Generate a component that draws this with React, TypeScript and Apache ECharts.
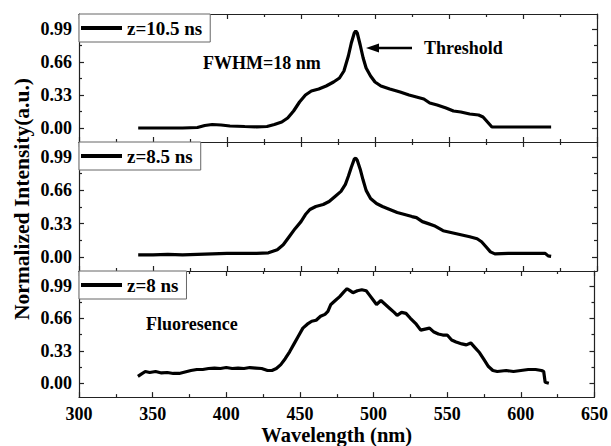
import React, { useEffect, useRef } from "react";
import * as echarts from "echarts";

// ---- data ----
const xTicks = [300, 350, 400, 450, 500, 550, 600, 650];
const yTicks = [0, 0.33, 0.66, 0.99];
const yMinorTicks = [0.165, 0.495, 0.825];

const names = ["z=10.5 ns", "z=8.5 ns", "z=8 ns"];

const wlA = [340, 355, 370, 380, 385, 390, 396, 402, 412, 420, 427, 432, 437, 441, 445, 449, 453, 457, 462, 467, 472, 476, 479, 482, 484, 486, 487, 488, 490, 492, 494, 497, 500, 504, 510, 517, 523, 528, 533, 537, 542, 548, 553, 558, 564, 570, 573, 576, 579, 590, 600, 610, 619];
const valA = [0.0, 0.0, 0.0, 0.005, 0.025, 0.035, 0.03, 0.02, 0.015, 0.012, 0.015, 0.035, 0.06, 0.1, 0.17, 0.26, 0.33, 0.37, 0.39, 0.42, 0.46, 0.5, 0.57, 0.72, 0.85, 0.95, 0.97, 0.95, 0.83, 0.7, 0.6, 0.52, 0.46, 0.42, 0.39, 0.36, 0.33, 0.31, 0.29, 0.25, 0.23, 0.2, 0.17, 0.16, 0.14, 0.13, 0.11, 0.06, 0.01, 0.01, 0.01, 0.01, 0.01];

const wlB = [340, 350, 360, 370, 380, 390, 400, 410, 420, 428, 434, 438, 442, 446, 450, 453, 456, 460, 465, 469, 473, 477, 480, 482, 484, 486, 487, 488, 490, 492, 494, 497, 501, 505, 510, 515, 520, 525, 528, 532, 536, 540, 546, 552, 558, 564, 569, 572, 575, 578, 581, 590, 600, 610, 615, 617, 619];
const valB = [0.02, 0.02, 0.025, 0.02, 0.025, 0.03, 0.035, 0.035, 0.035, 0.04, 0.07, 0.12, 0.2, 0.28, 0.35, 0.42, 0.47, 0.5, 0.52, 0.55, 0.6, 0.65, 0.72, 0.8, 0.89, 0.97, 0.98, 0.96, 0.87, 0.76, 0.66, 0.58, 0.53, 0.5, 0.47, 0.44, 0.42, 0.4, 0.39, 0.35, 0.33, 0.31, 0.26, 0.24, 0.22, 0.2, 0.18, 0.15, 0.1, 0.05, 0.03, 0.035, 0.035, 0.035, 0.035, 0.01, 0.005];

const wlC = [340, 342, 345, 348, 352, 356, 360, 364, 368, 372, 376, 380, 384, 388, 392, 396, 400, 404, 408, 412, 416, 420, 424, 428, 431, 434, 437, 440, 443, 446, 449, 452, 455, 458, 461, 464, 467, 469, 471, 474, 477, 480, 482, 484, 486, 489, 492, 495, 497, 500, 502, 505, 508, 511, 514, 516, 519, 522, 525, 529, 532, 535, 538, 541, 544, 547, 550, 553, 556, 560, 563, 566, 569, 572, 575, 578, 581, 584, 590, 595, 600, 605, 610, 614, 615.5, 616.5, 619];
const valC = [0.07, 0.09, 0.12, 0.11, 0.12, 0.105, 0.11, 0.1, 0.1, 0.115, 0.13, 0.14, 0.14, 0.15, 0.155, 0.15, 0.16, 0.15, 0.155, 0.15, 0.16, 0.155, 0.15, 0.13, 0.13, 0.15, 0.19, 0.25, 0.32, 0.4, 0.48, 0.56, 0.6, 0.63, 0.64, 0.68, 0.7, 0.73, 0.8, 0.84, 0.88, 0.93, 0.96, 0.94, 0.92, 0.94, 0.95, 0.94, 0.9, 0.84, 0.8, 0.84, 0.8, 0.76, 0.72, 0.69, 0.72, 0.71, 0.66, 0.6, 0.54, 0.55, 0.56, 0.52, 0.5, 0.49, 0.49, 0.44, 0.42, 0.4, 0.39, 0.41, 0.36, 0.31, 0.24, 0.17, 0.13, 0.12, 0.13, 0.12, 0.13, 0.14, 0.14, 0.13, 0.12, 0.01, 0.0];

const FONT = "'Liberation Serif', 'Times New Roman', serif";
const INK = "#000";
const AXIS = "#222";

function zip(xs: number[], ys: number[]) {
  return xs.map((x, i) => [x, ys[i]]);
}

export default function App() {
  const ref = useRef<HTMLDivElement>(null);
  useEffect(() => {
    if (!ref.current) return;
    const chart = echarts.init(ref.current, undefined, { renderer: "svg" });
    const left = 79;
    const width = 518;
    const grids = [
      { left, width, top: 14, height: 128 },
      { left, width, top: 142, height: 129 },
      { left, width, top: 271, height: 129 },
    ];
    const xAxes: any[] = [];
    const yAxes: any[] = [];
    grids.forEach((_, g) => {
      ["bottom", "top"].forEach((pos) => {
        const showLabel = g === 2 && pos === "bottom";
        xAxes.push({
          type: "value",
          gridIndex: g,
          position: pos,
          min: xTicks[0],
          max: xTicks[xTicks.length - 1],
          interval: 50,
          splitLine: { show: false },
          axisLine: { show: true, onZero: false, lineStyle: { color: AXIS, width: 1.2 } },
          axisTick: { show: true, inside: true, length: 5, lineStyle: { color: AXIS, width: 1.2 } },
          minorTick: { show: true, splitNumber: 2, length: 3, lineStyle: { color: AXIS, width: 1.2 } },
          axisLabel: {
            show: showLabel,
            margin: 8,
            fontFamily: FONT,
            fontWeight: "bold",
            fontSize: 18,
            color: INK,
          },
          name: showLabel ? "Wavelength (nm)" : "",
          nameLocation: "middle",
          nameGap: 20,
          nameTextStyle: { fontFamily: FONT, fontWeight: "bold", fontSize: 20.5, color: INK },
        });
      });
      ["left", "right"].forEach((pos) => {
        [true, false].forEach((major) => {
          const showLabel = pos === "left" && major;
          yAxes.push({
            type: "value",
            gridIndex: g,
            position: pos,
            min: -0.14,
            max: 1.14,
            splitLine: { show: false },
            axisLine: { show: major, onZero: false, lineStyle: { color: AXIS, width: 1.2 } },
            axisTick: {
              show: true,
              inside: true,
              length: major ? 5 : 3,
              customValues: major ? yTicks : yMinorTicks,
              lineStyle: { color: AXIS, width: 1.2 },
            },
            axisLabel: {
              show: showLabel,
              customValues: yTicks,
              formatter: (v: number) => v.toFixed(2),
              margin: 7,
              fontFamily: FONT,
              fontWeight: "bold",
              fontSize: 18,
              color: INK,
            },
          });
        });
      });
    });

    const datas = [zip(wlA, valA), zip(wlB, valB), zip(wlC, valC)];
    const series = datas.map((d, i) => ({
      type: "line",
      name: names[i],
      xAxisIndex: i * 2,
      yAxisIndex: i * 4,
      data: d,
      showSymbol: false,
      symbol: "none",
      lineStyle: { color: INK, width: 3.2 },
      itemStyle: { color: INK },
      z: 3,
    }));

    const legendTops = [14, 142, 271];
    const legend = names.map((n, i) => ({
      data: [n],
      left: 79,
      top: legendTops[i],
      orient: "horizontal",
      icon: "rect",
      itemWidth: 41,
      itemHeight: 4,
      padding: [4, 8, 4, 2],
      borderColor: "#666",
      borderWidth: 1,
      backgroundColor: "#fff",
      textStyle: {
        fontFamily: FONT,
        fontWeight: "bold",
        fontSize: 19,
        color: INK,
        lineHeight: 20,
      },
    }));

    const txt = (text: string, x: number, y: number, size = 18, rotation = 0, align = "left") => ({
      type: "text",
      x,
      y,
      rotation,
      style: {
        text,
        fill: INK,
        font: `bold ${size}px ${FONT}`,
        textAlign: align,
        textVerticalAlign: "middle",
        align,
        verticalAlign: "middle",
      },
      z: 10,
    });

    chart.setOption({
      animation: false,
      backgroundColor: "#fff",
      grid: grids,
      xAxis: xAxes,
      yAxis: yAxes,
      legend,
      series,
      graphic: [
        txt("Normalized Intensity(a.u.)", 22, 199, 21.5, Math.PI / 2, "center"),
        txt("FWHM=18 nm", 203, 63),
        txt("Threshold", 424, 48),
        txt("Fluoresence", 146, 324),
        {
          type: "line",
          shape: { x1: 412, y1: 48, x2: 374, y2: 48 },
          style: { stroke: INK, lineWidth: 2.5 },
          z: 10,
        },
        {
          type: "polygon",
          shape: { points: [[366, 48], [379, 43.5], [379, 52.5]] },
          style: { fill: INK },
          z: 10,
        },
      ],
    });
    return () => chart.dispose();
  }, []);
  return (
    <div
      ref={ref}
      style={{ position: "fixed", left: 0, top: 0, width: 611, height: 446, background: "#fff" }}
    />
  );
}
